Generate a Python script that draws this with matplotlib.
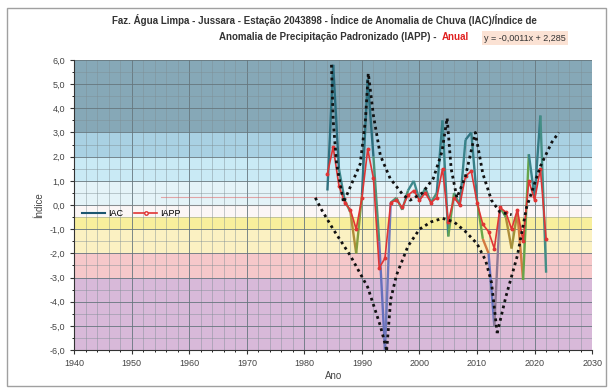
import matplotlib
matplotlib.use("Agg")
from matplotlib import pyplot as plt
from matplotlib.collections import LineCollection
from matplotlib.colors import LinearSegmentedColormap
from matplotlib.ticker import FuncFormatter, MultipleLocator
from matplotlib.patches import Rectangle
import numpy as np

plt.rcParams['font.family'] = ['Liberation Sans', 'DejaVu Sans']

# séries anuais
anos = list(range(1984, 2023))
iac = [0.6, 5.8, 1.5, 0.2, -0.3, -2.0, 0.4, 5.2, 2.0, -1.5,
       -6.0, 0.1, 0.3, -0.2, 0.6, 1.0, 0.2, 0.7, 0.1, 0.5,
       3.5, -1.3, 0.5, 0.0, 2.7, 3.0, 0.2, -1.4, -2.0, -5.0,
       -0.1, -0.5, -1.8, -0.3, -3.1, 2.1, 0.3, 3.7, -2.8]
iapp = [1.3, 2.4, 0.8, 0.1, -0.2, -1.0, 0.3, 2.3, 1.1, -2.6,
        -2.2, 0.1, 0.2, -0.1, 0.4, 0.6, 0.2, 0.5, 0.1, 0.3,
        1.5, -0.7, 0.3, 0.0, 1.2, 1.4, 0.1, -0.8, -1.1, -1.8,
        -0.1, -0.3, -1.0, -0.2, -1.5, 1.0, 0.2, 1.5, -1.4]

# linhas pontilhadas (envoltórias)
env_a_x = [1981.9, 1983, 1985, 1988, 1991, 1993.2, 1994.3]
env_a_y = [0.3, -0.2, -1.0, -2.1, -3.4, -5.0, -6.0]
env_b_x = [1994.3, 1995, 1996, 1998, 2000, 2002, 2004, 2006, 2008, 2010, 2011.5, 2012.5, 2013.5]
env_b_y = [-6.0, -3.9, -2.9, -1.7, -1.0, -0.7, -0.55, -0.7, -1.1, -1.6, -2.3, -3.2, -5.3]
env_c_x = [2013.5, 2015, 2017, 2018.6, 2021, 2023, 2024.2]
env_c_y = [-5.3, -3.8, -2.1, -0.1, 1.6, 2.6, 3.0]
env_d_x = [1984.7, 1985, 1985.6, 1986.8, 1989.7, 1990.6, 1991.1, 1992, 1993.2, 1994.9,
           1997.2, 1998.4, 2000.5, 2002.4, 2003.9, 2004.8, 2005.5, 2006.5, 2008, 2009.7,
           2011, 2012.5, 2014, 2016]
env_d_y = [5.8, 3.5, 1.7, 0.1, 1.7, 3.5, 5.45, 3.7, 2.05, 1.1,
           0.4, 0.2, 0.5, 1.1, 2.2, 3.6, 1.5, 0.3, 1.2, 3.0,
           1.3, 0.2, -0.3, -0.4]

# faixas de classificação
faixas = [(3, 6, '#86a8b7'), (2, 3, '#a9d1e3'), (1, 2, '#c9eaf5'), (0, 1, '#e4f3f8'),
          (-0.5, 0, '#fbf6f6'), (-1, -0.5, '#f8ef9c'), (-2, -1, '#fbf1c2'),
          (-3, -2, '#f6c8ca'), (-6, -3, '#d8b9d9')]

fig = plt.figure(figsize=(6.13, 3.92), dpi=100)
fig.patches.append(Rectangle((0.012, 0.015), 0.976, 0.965, transform=fig.transFigure,
                             fill=False, edgecolor='#a0a0a0', linewidth=1))
ax = fig.add_axes([0.121, 0.107, 0.845, 0.740])

for lo, hi, cor in faixas:
    ax.axhspan(lo, hi, color=cor, zorder=0.1, linewidth=0)

ax.set_xlim(1940, 2030)
ax.set_ylim(-6, 6)
ax.xaxis.set_major_locator(MultipleLocator(10))
ax.xaxis.set_minor_locator(MultipleLocator(2))
ax.yaxis.set_major_locator(MultipleLocator(1))
ax.yaxis.set_minor_locator(MultipleLocator(0.5))
ax.set_axisbelow(True)
ax.grid(which='major', color='#66767d', linewidth=0.6)
ax.grid(which='minor', color='#7f8d93', linewidth=0.45, alpha=0.7)
ax.yaxis.set_major_formatter(FuncFormatter(lambda v, p: f"{v:.1f}".replace('.', ',')))
ax.tick_params(labelsize=6.5, length=3, color='#333333', labelcolor='#444444')
ax.tick_params(which='minor', length=1.5)
for s in ['top', 'right']:
    ax.spines[s].set_visible(False)
ax.spines['left'].set_color('#333333')
ax.spines['bottom'].set_color('#333333')

# linhas de tendência tênues
ax.plot([1955, 2024], [0.35, 0.35], color='#e07070', linewidth=0.8, alpha=0.6, zorder=1)
ax.plot([1944, 2024], [0.02, 0.02], color='#909090', linewidth=0.8, alpha=0.6, zorder=1)

# IAC com cor variando pelo valor
cmap = LinearSegmentedColormap.from_list('iac', [(0.0, '#5659b0'), (0.25, '#6a78c0'),
                                                 (0.37, '#e07a30'), (0.45, '#6aa845'),
                                                 (0.55, '#3e8a8e'), (1.0, '#1c5570')])
pts = np.column_stack([anos, iac])
segs = np.stack([pts[:-1], pts[1:]], axis=1)
meio = (np.array(iac[:-1]) + np.array(iac[1:])) / 2
lc = LineCollection(segs, colors=cmap((meio + 6) / 12), linewidth=1.7, zorder=3)
ax.add_collection(lc)

ax.plot(anos, iapp, color='#e03535', linewidth=1.2, marker='o', markersize=1.8, zorder=4)

for ex, ey in [(env_a_x, env_a_y), (env_b_x, env_b_y), (env_c_x, env_c_y), (env_d_x, env_d_y)]:
    ax.plot(ex, ey, color='#111111', linestyle=(0, (1, 1.3)), linewidth=2.0, zorder=5)

# legenda
h1, = ax.plot([], [], color='#1c5570', linewidth=1.5, label='IAC')
h2, = ax.plot([], [], color='#e03535', linewidth=1.2, marker='o', markersize=2.5,
              markerfacecolor='white', label='IAPP')
ax.legend(handles=[h1, h2], loc='center left', bbox_to_anchor=(0.0, 0.47), ncol=2,
          frameon=False, fontsize=6.5, handlelength=2.5, columnspacing=1.2, handletextpad=0.4)

ax.set_xlabel('Ano', fontsize=7, labelpad=2, color='#444444')
ax.set_ylabel('Índice', fontsize=7, labelpad=4, color='#444444')

# título
fig.text(0.53, 0.949, 'Faz. Água Limpa - Jussara - Estação 2043898 - Índice de Anomalia de Chuva (IAC)/Índice de',
         ha='center', va='center', fontsize=7, fontweight='bold', color='#333333')
fig.text(0.717, 0.906, 'Anomalia de Precipitação Padronizado (IAPP) - ',
         ha='right', va='center', fontsize=7, fontweight='bold', color='#333333')
fig.text(0.72, 0.906, 'Anual', ha='left', va='center', fontsize=7, fontweight='bold', color='#e02020')
fig.text(0.79, 0.903, 'y = -0,0011x + 2,285', ha='left', va='center', fontsize=6.5, color='#333333',
         bbox=dict(boxstyle='square,pad=0.25', facecolor='#fbe2d4', edgecolor='none'))

plt.savefig('out.png', dpi=100)
